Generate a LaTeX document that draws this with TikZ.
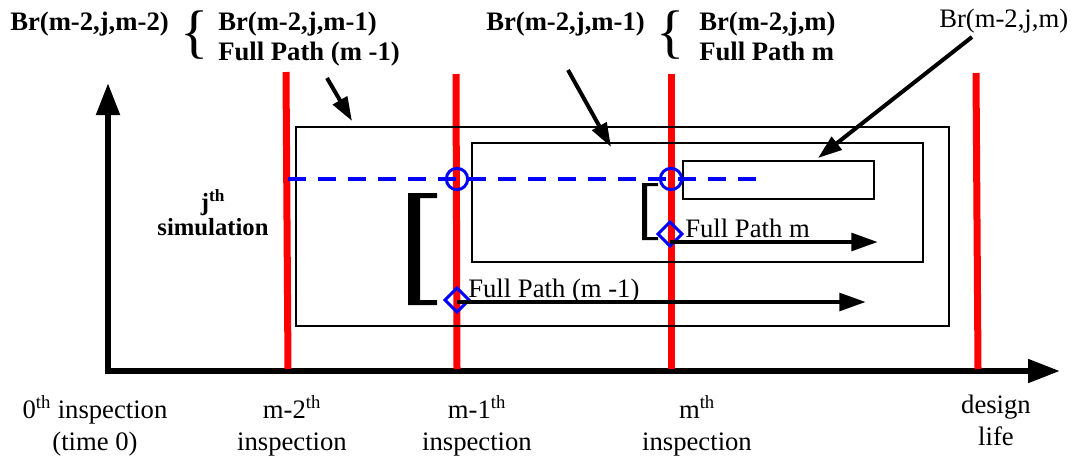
\documentclass[tikz,border=0pt]{standalone}
\usepackage{fontspec}
\setmainfont{Liberation Serif}
\usepackage{tikz}
\usetikzlibrary{arrows.meta, positioning, shapes.geometric}

\begin{document}
\begin{tikzpicture}[
  x=0.75pt, y=-0.75pt,
  every node/.style={font=\fontsize{20}{24}\selectfont, inner sep=0pt},
  head/.style={font=\fontsize{20}{24}\selectfont\bfseries, anchor=base west},
  bracelbl/.style={font=\fontsize{44}{44}\selectfont},
  inspline/.style={red, line width=5.25pt},
  frame/.style={line width=1.5pt},
  track/.style={blue, line width=2.6pt, dash pattern=on 13.5pt off 9pt},
  hit/.style={circle, draw=blue, line width=2.25pt, minimum size=16pt},
  startpt/.style={diamond, draw=blue, line width=2.25pt, minimum width=19pt, minimum height=19pt},
  patharrow/.style={-{Triangle[length=20pt, width=13pt]}, line width=3.5pt},
  pointer/.style={-{Triangle[length=18pt, width=12pt]}, line width=3pt},
  axis/.style={{Triangle[length=24pt, width=17pt]}-{Triangle[length=24pt, width=17pt]}, line width=4.5pt},
  bottomlbl/.style={align=center, anchor=north},
]
\useasboundingbox (0,0) rectangle (1074,461);

% Axes
\coordinate (origin) at (108,371);
\coordinate (yend) at (108,83);
\coordinate (xend) at (1060,371);
\draw[axis] (yend) -- (origin) -- (xend);

% Inspection times
\draw[inspline] (288,369) -- (286,72);
\draw[inspline] (457,369) -- (456,74);
\draw[inspline] (671,369) -- (671,74);
\draw[inspline] (978,369) -- (976,73);

% Branch frames
\draw[frame] (296,127) rectangle (949,326);
\draw[frame] (472,143) rectangle (923,262);
\draw[frame] (683,161) rectangle (874,199);

% j-th simulation track
\coordinate (trackstart) at (288,179);
\coordinate (trackend) at (757,179);
\draw[track] (trackstart) -- (trackend);
\node[hit] (hitm1) at (457,179) {};
\node[hit] (hitm) at (671,179) {};

% Brackets
\fill (437,193) -- (408,193) -- (408,305) -- (437,305) -- (437,300) -- (420,300)
  -- (420,198) -- (437,198) -- cycle;
\fill (658,183) -- (642,183) -- (642,240) -- (658,240) -- (658,237) -- (647,237)
  -- (647,186) -- (658,186) -- cycle;

% Full paths
\coordinate (fpend1) at (866,302);
\coordinate (fpend2) at (878,242);
\node[startpt] (dmm1) at (457,300) {};
\node[startpt] (dmm) at (670,234) {};
\draw[patharrow] (dmm1.center |- fpend1) -- (fpend1);
\draw[patharrow] (dmm.center |- fpend2) -- (fpend2);
\node[anchor=base west] (fplblm1) at (468,297) {Full Path (m -1)};
\node[anchor=base west] (fplblm) at (685,237) {Full Path m};

% Simulation label
\node[align=center, font=\fontsize{18.5}{19}\selectfont\bfseries] (simlbl) at (213,213)
  {j\textsuperscript{th}\\simulation};

% Top labels
\node[head] (brm2) at (10,30) {Br(m-2,j,m-2)};
\node[bracelbl] (brace1) at (195,35) {\{};
\node[head] (brm1a) at (218,30) {Br(m-2,j,m-1)};
\node[head] (fpm1a) at (218,60) {Full Path (m -1)};
\node[head] (brm1b) at (486,30) {Br(m-2,j,m-1)};
\node[bracelbl] (brace2) at (671,35) {\{};
\node[head] (brma) at (699,30) {Br(m-2,j,m)};
\node[head] (fpma) at (699,60) {Full Path m};
\node[anchor=base west] (brmc) at (939,27) {Br(m-2,j,m)};

% Pointers to branch frames
\coordinate (ptr1s) at (327,78);
\coordinate (ptr1e) at (352,121);
\coordinate (ptr2s) at (568,70);
\coordinate (ptr2e) at (611,147);
\coordinate (ptr3s) at (972,37);
\coordinate (ptr3e) at (818,158);
\draw[pointer] (ptr1s) -- (ptr1e);
\draw[pointer] (ptr2s) -- (ptr2e);
\draw[pointer] (ptr3s) -- (ptr3e);

% Time axis labels
\node[bottomlbl] (lbl0) at (95,395) {0\textsuperscript{th} inspection\\(time 0)};
\node[bottomlbl] (lblm2) at (292,395) {m-2\textsuperscript{th}\\inspection};
\node[bottomlbl] (lblm1) at (477,395) {m-1\textsuperscript{th}\\inspection};
\node[bottomlbl] (lblm) at (697,395) {m\textsuperscript{th}\\inspection};
\node[bottomlbl] (lbldl) at (996,395) {design\\life};

\end{tikzpicture}
\end{document}
